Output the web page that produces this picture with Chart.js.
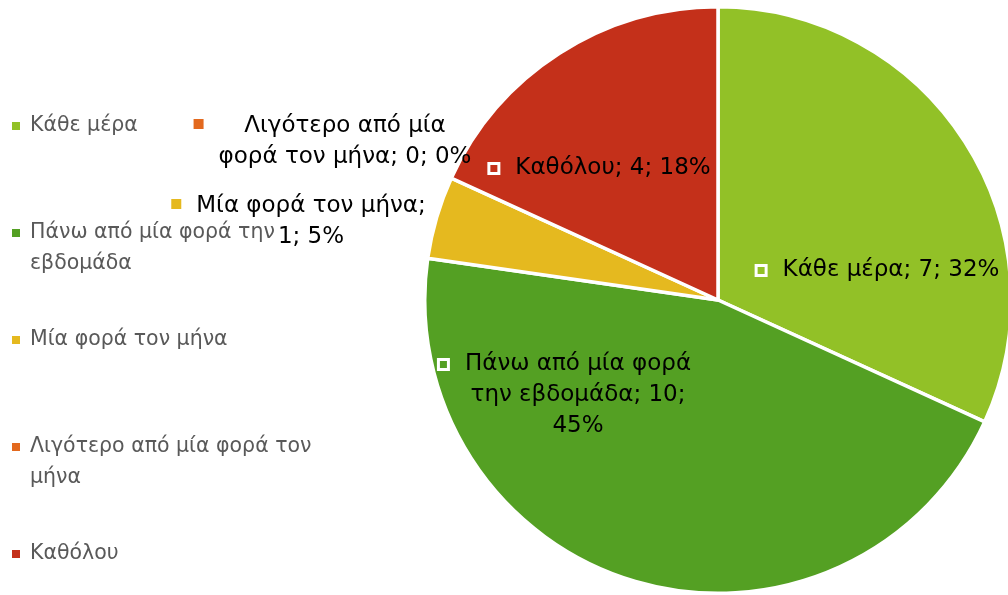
<!DOCTYPE html>
<html>
<head>
<meta charset="utf-8">
<script src="https://cdn.jsdelivr.net/npm/chart.js@4.4.0/dist/chart.umd.min.js"></script>
<style>
  html, body { margin: 0; padding: 0; background: #fff; overflow: hidden; }
  #pie { display: block; }
</style>
</head>
<body>
<canvas id="pie" width="1020" height="595"></canvas>
<script>
// data
var categories = ['Κάθε μέρα', 'Πάνω από μία φορά την εβδομάδα', 'Μία φορά τον μήνα', 'Λιγότερο από μία φορά τον μήνα', 'Καθόλου'];
var counts = [7, 10, 1, 0, 4];
var colors = ['#92C127', '#54A023', '#E5B91F', '#E3691E', '#C4301A'];

// where each data label sits (centre of first line) and how many words go on each line
var labelLayout = [
    { x: 891, y: 270, words: [99], inside: true },
    { x: 578, y: 364, words: [4, 3, 99], inside: true },
    { x: 311, y: 206, words: [4, 99], inside: false },
    { x: 345, y: 126, words: [3, 99], inside: false },
    { x: 613, y: 168, words: [99], inside: true }
];

var FONT = '"DejaVu Sans", "Noto Sans", sans-serif';

function wrapText(ctx, text, maxW) {
    var words = text.split(' ');
    var lines = [];
    var cur = '';
    words.forEach(function (w) {
        var test = cur ? cur + ' ' + w : w;
        if (cur && ctx.measureText(test).width > maxW) {
            lines.push(cur);
            cur = w;
        } else {
            cur = test;
        }
    });
    if (cur) lines.push(cur);
    return lines;
}

function splitWords(text, counts) {
    var words = text.split(' ');
    var lines = [];
    var k = 0;
    counts.forEach(function (n) {
        if (k < words.length) {
            lines.push(words.slice(k, k + n).join(' '));
            k += n;
        }
    });
    return lines;
}

var labelsPlugin = {
    id: 'excelLabels',
    afterDraw: function (chart) {
        var ctx = chart.ctx;
        var total = counts.reduce(function (a, b) { return a + b; }, 0);
        ctx.save();

        // legend on the left
        ctx.font = '20.5px ' + FONT;
        ctx.textBaseline = 'middle';
        ctx.textAlign = 'left';
        categories.forEach(function (name, i) {
            var y = 126 + i * 107;
            ctx.fillStyle = colors[i];
            ctx.fillRect(12, y - 4, 8, 8);
            ctx.fillStyle = '#595959';
            wrapText(ctx, name, 305).forEach(function (line, j) {
                ctx.fillText(line, 30, y + j * 31);
            });
        });

        // data labels
        ctx.font = '23px ' + FONT;
        categories.forEach(function (name, i) {
            var pos = labelLayout[i];
            var pct = Math.round(counts[i] / total * 100);
            var text = name + '; ' + counts[i] + '; ' + pct + '%';
            var lines = splitWords(text, pos.words);
            var maxW = 0;
            lines.forEach(function (l) { maxW = Math.max(maxW, ctx.measureText(l).width); });
            var left = pos.x - maxW / 2;

            // legend key next to the label
            if (pos.inside) {
                ctx.fillStyle = colors[i];
                ctx.fillRect(left - 28, pos.y - 6, 13, 13);
                ctx.strokeStyle = '#fff';
                ctx.lineWidth = 3;
                ctx.strokeRect(left - 26.5, pos.y - 4.5, 10, 10);
            } else {
                ctx.fillStyle = colors[i];
                ctx.fillRect(left - 25, pos.y - 7, 10, 10);
            }

            ctx.fillStyle = '#000';
            ctx.textAlign = 'center';
            lines.forEach(function (l, j) {
                ctx.fillText(l, pos.x, pos.y + j * 31);
            });
        });
        ctx.restore();
    }
};

new Chart(document.getElementById('pie'), {
    type: 'pie',
    data: {
        labels: categories,
        datasets: [{
            data: counts,
            backgroundColor: colors,
            borderColor: '#fff',
            borderWidth: 3.5
        }]
    },
    options: {
        responsive: false,
        animation: false,
        layout: { padding: { left: 423, right: 7, top: 5, bottom: 0 } },
        plugins: {
            legend: { display: false },
            tooltip: { enabled: false }
        }
    },
    plugins: [labelsPlugin]
});
</script>
</body>
</html>
